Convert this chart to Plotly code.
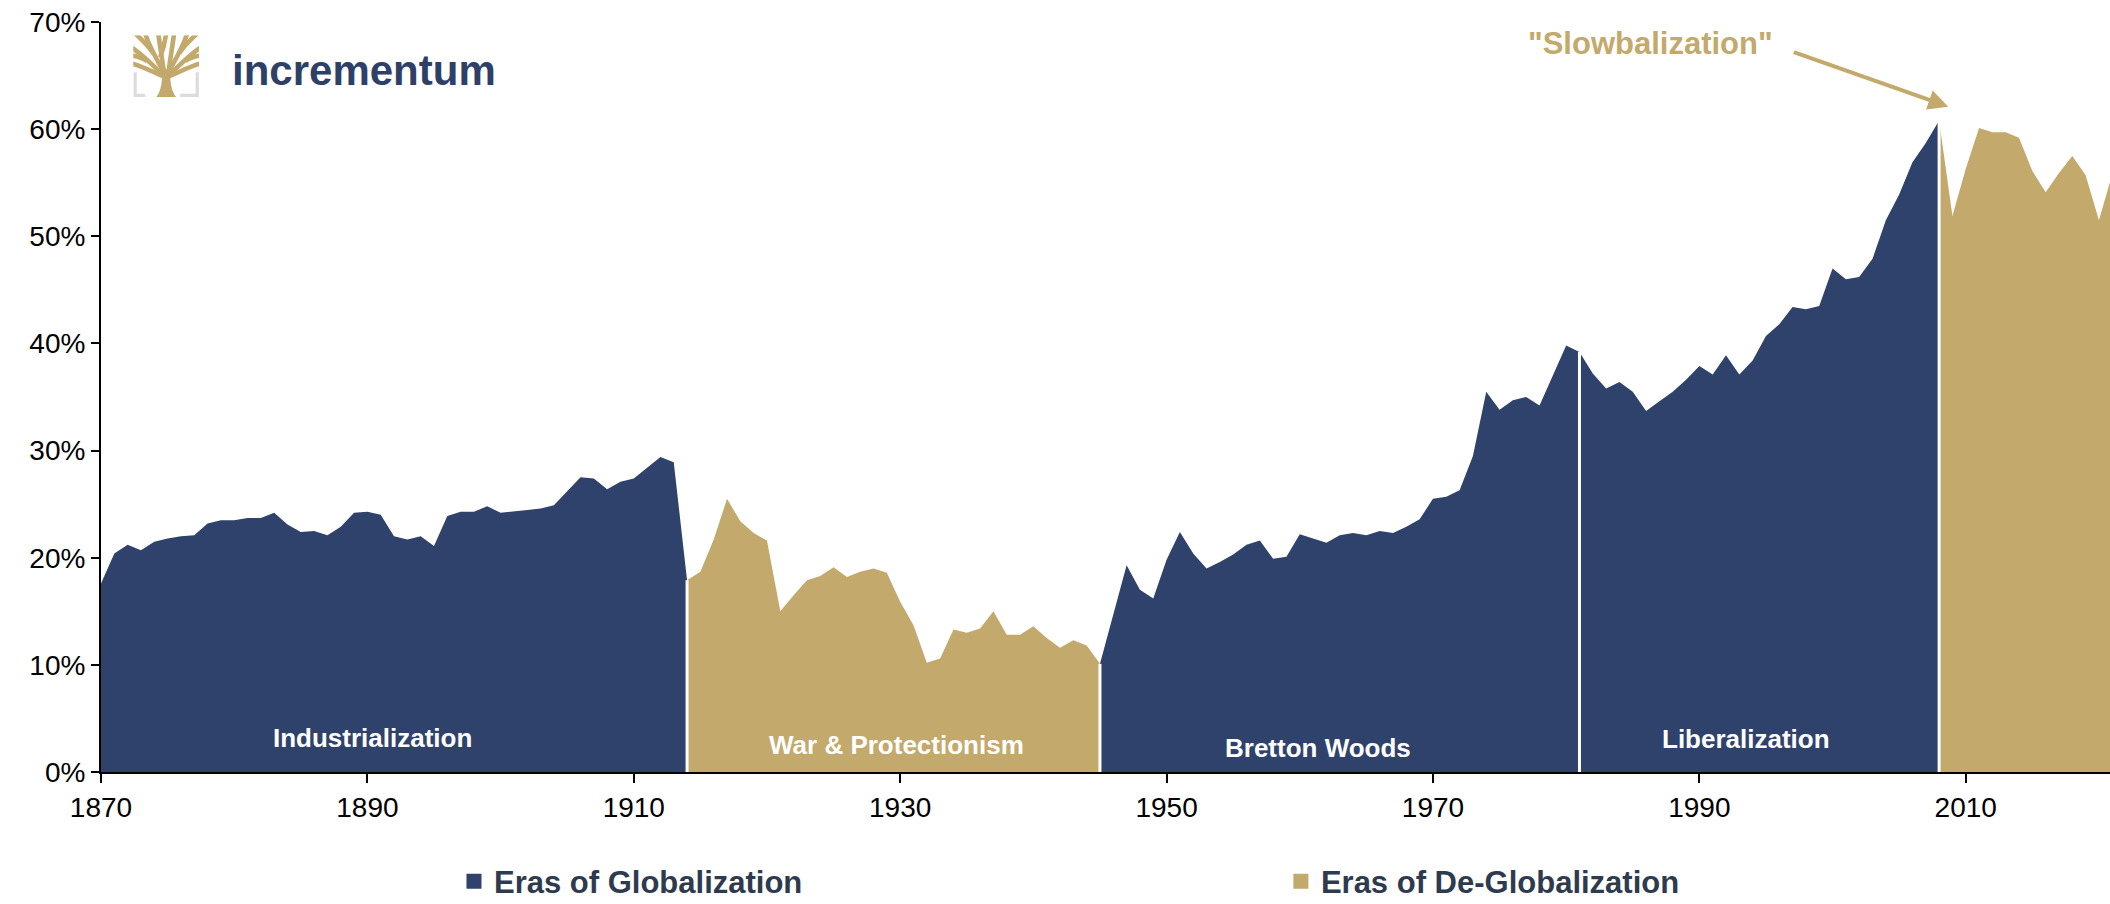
import base64

import plotly.graph_objects as go

NAVY = "#2f426b"
GOLD = "#c3a96c"
LEGEND_TEXT = "#2e3b4e"
FONT = "Liberation Sans, Arial, sans-serif"

# trade openness (% of world GDP), split into eras
years_industrial = list(range(1870, 1915))
share_industrial = [
    17.6, 20.4, 21.2, 20.7, 21.5, 21.8, 22.0, 22.1, 23.2, 23.5,
    23.5, 23.7, 23.7, 24.2, 23.1, 22.4, 22.5, 22.1, 22.9, 24.2,
    24.3, 24.0, 22.0, 21.7, 22.0, 21.1, 23.9, 24.3, 24.3, 24.8,
    24.2, 24.3, 24.45, 24.6, 24.9, 26.2, 27.5, 27.4, 26.4, 27.1,
    27.4, 28.4, 29.4, 28.9, 17.9,
]
years_war = list(range(1914, 1946))
share_war = [
    17.9, 18.7, 21.7, 25.5, 23.4, 22.3, 21.6,
    15.0, 16.5, 17.9, 18.3, 19.1, 18.2, 18.7, 19.0, 18.6, 15.9,
    13.7, 10.2, 10.6, 13.3, 13.0, 13.4, 15.0, 12.8, 12.8, 13.6,
    12.5, 11.6, 12.3, 11.8, 10.1,
]
years_bretton = list(range(1945, 1982))
share_bretton = [
    10.1, 14.7, 19.3, 17.0, 16.2,
    19.8, 22.4, 20.4, 19.0, 19.6, 20.3, 21.2, 21.6, 19.9, 20.1,
    22.2, 21.8, 21.4, 22.1, 22.3, 22.1, 22.5, 22.3, 22.9, 23.6,
    25.5, 25.7, 26.3, 29.5, 35.5, 33.8, 34.7, 35.0, 34.2, 37.0,
    39.8, 39.2,
]
years_liberal = list(range(1981, 2009))
share_liberal = [
    39.2, 37.2, 35.8, 36.4, 35.5, 33.7, 34.6, 35.5, 36.6,
    37.9, 37.1, 38.9, 37.1, 38.4, 40.7, 41.8, 43.4, 43.2, 43.5,
    47.0, 46.0, 46.2, 47.9, 51.5, 53.9, 56.9, 58.7, 60.8,
]
years_slow = list(range(2008, 2022))
share_slow = [
    60.8, 51.9, 56.3, 60.1, 59.7, 59.7, 59.2, 56.1, 54.1, 55.9,
    57.5, 55.7, 51.5, 55.8,
]

eras = [
    ("Industrialization", years_industrial, share_industrial, NAVY),
    ("War & Protectionism", years_war, share_war, GOLD),
    ("Bretton Woods", years_bretton, share_bretton, NAVY),
    ("Liberalization", years_liberal, share_liberal, NAVY),
    ("Slowbalization", years_slow, share_slow, GOLD),
]
# label anchors (year, %) for the era names
era_labels = {
    "Industrialization": (1890.4, 3.2),
    "War & Protectionism": (1929.7, 2.5),
    "Bretton Woods": (1961.4, 2.2),
    "Liberalization": (1993.5, 3.1),
}

TREE_SVG = """<svg xmlns='http://www.w3.org/2000/svg' viewBox='0 0 66 62' width='66' height='62'>
<defs><clipPath id='c'><rect x='0' y='0' width='66' height='48'/></clipPath></defs>
<path d='M23,62 C28,56 29,46 29.5,34 L36.5,34 C37,46 38,56 43,62 Z' fill='#c3a96c'/>
<g clip-path='url(#c)' stroke='#c3a96c' stroke-width='4.6' fill='none' stroke-linecap='butt'>
<path d='M31,38 C29,25 27,12 25,-2'/><path d='M35,38 C37,25 39,12 41,-2'/>
<path d='M31,38 C24,24 16,12 12,-2'/><path d='M35,38 C42,24 50,12 54,-2'/>
<path d='M30,40 C20,30 8,18 -2,12'/><path d='M36,40 C46,30 58,18 68,12'/>
<path d='M30,41 C20,37 10,31 -2,28'/><path d='M36,41 C46,37 56,31 68,28'/>
<path d='M20,18 C15,10 8,4 2,-2'/><path d='M46,18 C51,10 58,4 64,-2'/>
<path d='M27,22 C30,14 32,6 33,-2'/>
<path d='M14,26 C9,22 4,21 -2,20'/><path d='M52,26 C57,22 62,21 68,20'/>
</g>
<path d='M2,37 V60 H12' stroke='#dcdcdf' stroke-width='3.2' fill='none'/>
<path d='M64,37 V60 H47' stroke='#dcdcdf' stroke-width='3.2' fill='none'/>
</svg>"""
tree_uri = "data:image/svg+xml;base64," + base64.b64encode(TREE_SVG.encode()).decode()

fig = go.Figure()

for name, xs, ys, color in eras:
    fig.add_trace(
        go.Scatter(
            x=xs,
            y=ys,
            mode="lines",
            fill="tozeroy",
            fillcolor=color,
            line=dict(color=color, width=0),
            name=name,
            showlegend=False,
            hovertemplate="%{x}: %{y:.1f}%<extra>" + name + "</extra>",
        )
    )

# legend entries
fig.add_trace(
    go.Scatter(
        x=[None], y=[None], mode="markers",
        marker=dict(symbol="square", size=15, color=NAVY),
        name="Eras of Globalization", legend="legend",
    )
)
fig.add_trace(
    go.Scatter(
        x=[None], y=[None], mode="markers",
        marker=dict(symbol="square", size=15, color=GOLD),
        name="Eras of De-Globalization", legend="legend2",
    )
)

# white separators between eras
for _, xs, ys, _ in eras[1:]:
    fig.add_shape(
        type="line", xref="x", yref="y",
        x0=xs[0], x1=xs[0], y0=0, y1=ys[0],
        line=dict(color="white", width=3),
    )

for text, (lx, ly) in era_labels.items():
    fig.add_annotation(
        x=lx, y=ly, text=text, showarrow=False,
        font=dict(family=FONT, size=26, color="white", weight="bold"),
    )

fig.add_annotation(
    x=1986.3, y=68.0, text='"Slowbalization"', showarrow=False,
    font=dict(family=FONT, size=31, color=GOLD, weight="bold"),
)
fig.add_annotation(
    x=2008.69, y=62.1, ax=-156, ay=-55, text="", showarrow=True,
    arrowhead=2, arrowsize=1, arrowwidth=4, arrowcolor=GOLD, standoff=0,
)

# logo
fig.add_layout_image(
    source=tree_uri, xref="paper", yref="paper",
    x=0.016, y=0.9823, sizex=0.0329, sizey=0.0827,
    xanchor="left", yanchor="top", sizing="stretch", layer="above",
)
fig.add_annotation(
    xref="paper", yref="paper", x=0.0642, y=0.9356,
    xanchor="left", yanchor="middle", text="incrementum", showarrow=False,
    font=dict(family=FONT, size=42, color="#2e4068", weight="bold"),
)

legend_common = dict(
    orientation="h", yanchor="middle", y=-0.146, xanchor="left",
    bgcolor="rgba(0,0,0,0)",
    font=dict(family=FONT, size=31, color=LEGEND_TEXT, weight="bold"),
)

fig.update_layout(
    width=2110,
    height=904,
    margin=dict(l=101, r=0, t=22, b=132, autoexpand=False),
    plot_bgcolor="white",
    paper_bgcolor="white",
    font=dict(family=FONT, color="black"),
    legend=dict(x=0.1757, **legend_common),
    legend2=dict(x=0.5873, **legend_common),
    hovermode="closest",
)
fig.update_xaxes(
    range=[1870, 2020.83],
    tickvals=list(range(1870, 2011, 20)),
    ticks="outside", ticklen=9, tickwidth=2, tickcolor="black",
    showline=True, linecolor="black", linewidth=2,
    showgrid=False, zeroline=False,
    tickfont=dict(size=28, color="black"),
)
fig.update_yaxes(
    range=[0, 70], dtick=10, ticksuffix="%",
    ticks="outside", ticklen=8, tickwidth=2, tickcolor="black",
    showline=True, linecolor="black", linewidth=2,
    showgrid=False, zeroline=False,
    tickfont=dict(size=28, color="black"),
)

fig.write_html(
    "out.html",
    config={"displayModeBar": False},
    post_script="document.body.style.margin='0';",
)
